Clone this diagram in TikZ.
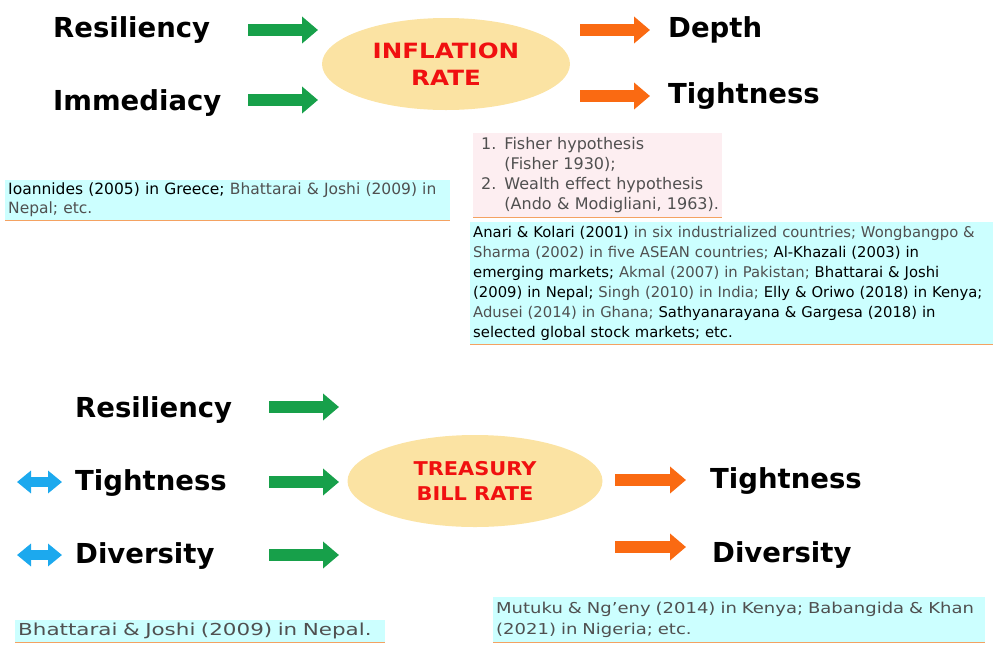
\documentclass[tikz,border=0pt]{standalone}
\usepackage{fontspec}
\setmainfont{DejaVu Sans}
\newfontfamily\infont[FakeStretch=1.17]{DejaVu Sans}
\newfontfamily\tbfont[FakeStretch=1.1]{DejaVu Sans}
\newfontfamily\midfont[FakeStretch=1.2]{DejaVu Sans}
\newfontfamily\widefont[FakeStretch=1.3]{DejaVu Sans}
\usepackage{xcolor}
\usetikzlibrary{arrows.meta,shapes,positioning}

\definecolor{arrgreen}{HTML}{17A04A}
\definecolor{arrorange}{HTML}{FA6A12}
\definecolor{arrblue}{HTML}{1CA9EE}
\definecolor{ellyellow}{HTML}{FBE3A3}
\definecolor{ratered}{HTML}{F01010}
\definecolor{refcyan}{HTML}{CCFFFF}
\definecolor{refpink}{HTML}{FDEEF1}
\definecolor{lineorange}{HTML}{F4A262}
\definecolor{txtgray}{HTML}{505050}
\newcommand{\dk}[1]{\textcolor{black}{#1}}

\begin{document}
\begin{tikzpicture}[x=1pt,y=-1pt,
  big/.style={font=\fontsize{27.5}{30}\selectfont\bfseries,anchor=base west,inner sep=0pt},
  rate/.style={ellipse,fill=ellyellow,minimum width=248pt,minimum height=92pt,
    align=center,text=ratered},
  garr/.style={line width=12pt,arrgreen,-{Triangle[length=16pt,width=26pt]}},
  oarr/.style={line width=12pt,arrorange,-{Triangle[length=16pt,width=26pt]}},
  barr/.style={line width=10pt,arrblue,{Triangle[length=14pt,width=22pt]}-{Triangle[length=14pt,width=22pt]}},
  refbox/.style={anchor=north west,align=left,inner xsep=3pt,inner ysep=2pt,text=txtgray},
  uline/.style={lineorange,line width=1.5pt}]
\useasboundingbox (0,0) rectangle (993,654);

% inflation rate
\node[rate,font=\fontsize{21}{27}\selectfont\infont\bfseries] (inf) at (446,64) {INFLATION\\RATE};
\node[big] (res1) at (53,37) {Resiliency};
\node[big] (imm1) at (53,110) {Immediacy};
\node[big] (dep1) at (668,37) {Depth};
\node[big] (tig1) at (668,103) {Tightness};
\coordinate (g1s) at (248,30); \coordinate (g1e) at (318,30);
\coordinate (g2s) at (248,100); \coordinate (g2e) at (318,100);
\coordinate (o1s) at (580,30); \coordinate (o1e) at (650,30);
\coordinate (o2s) at (580,96); \coordinate (o2e) at (650,96);
\draw[garr] (g1s) -- (g1e);
\draw[garr] (g2s) -- (g2e);
\draw[oarr] (o1s) -- (o1e);
\draw[oarr] (o2s) -- (o2e);

% hypotheses
\node[refbox,fill=refpink,text width=243pt,minimum height=82pt,
  font=\fontsize{16}{20}\selectfont] (hyp) at (473,133)
  {\begin{tabular}{@{\hspace{5pt}}r@{ }l}
   1. & Fisher hypothesis\\
      & (Fisher 1930);\\
   2. & Wealth effect hypothesis\\
      & (Ando \& Modigliani, 1963).
   \end{tabular}};
\draw[uline] (hyp.south west) -- (hyp.south east);

% evidence, top
\node[refbox,fill=refcyan,text width=439pt,minimum height=40pt,
  font=\fontsize{15.5}{19}\selectfont] (ev1) at (5,180)
  {\dk{Ioannides (2005) in Greece;} Bhattarai \& Joshi (2009) in\\Nepal; etc.};
\draw[uline] (ev1.south west) -- (ev1.south east);
\node[refbox,fill=refcyan,text width=517pt,minimum height=122pt,
  font=\fontsize{14.8}{20}\selectfont] (ev2) at (470,222)
  {\dk{Anari \& Kolari (2001)} in six industrialized countries; Wongbangpo \&\\
   Sharma (2002) in five ASEAN countries; \dk{Al-Khazali (2003) in}\\
   \dk{emerging markets;} Akmal (2007) in Pakistan; \dk{Bhattarai \& Joshi}\\
   \dk{(2009) in Nepal;} Singh (2010) in India; \dk{Elly \& Oriwo (2018) in Kenya;}\\
   Adusei (2014) in Ghana; \dk{Sathyanarayana \& Gargesa (2018) in}\\
   \dk{selected global stock markets; etc.}};
\draw[uline] (ev2.south west) -- (ev2.south east);

% treasury bill rate
\node[rate,minimum width=255pt,font=\fontsize{19}{25}\selectfont\tbfont\bfseries] (tbr) at (475,481) {TREASURY\\BILL RATE};
\node[big] (res2) at (75,417) {Resiliency};
\node[big] (tig2) at (75,490) {Tightness};
\node[big] (div2) at (75,563) {Diversity};
\node[big] (tig3) at (710,488) {Tightness};
\node[big] (div3) at (712,562) {Diversity};
\coordinate (b1s) at (17,482); \coordinate (b1e) at (62,482);
\coordinate (b2s) at (17,555); \coordinate (b2e) at (62,555);
\draw[barr] (b1s) -- (b1e);
\draw[barr] (b2s) -- (b2e);
\coordinate (g3s) at (269,407); \coordinate (g3e) at (339,407);
\coordinate (g4s) at (269,482); \coordinate (g4e) at (339,482);
\coordinate (g5s) at (269,555); \coordinate (g5e) at (339,555);
\draw[garr] (g3s) -- (g3e);
\draw[garr] (g4s) -- (g4e);
\draw[garr] (g5s) -- (g5e);
\coordinate (o3s) at (615,480); \coordinate (o3e) at (686,480);
\coordinate (o4s) at (615,547); \coordinate (o4e) at (686,547);
\draw[oarr] (o3s) -- (o3e);
\draw[oarr] (o4s) -- (o4e);

% evidence, bottom
\node[refbox,fill=refcyan,text width=486pt,minimum height=45pt,
  font=\fontsize{15}{21}\selectfont\midfont] (ev3) at (493,597)
  {Mutuku \& Ng’eny (2014) in Kenya; Babangida \& Khan\\(2021) in Nigeria; etc.};
\draw[uline] (ev3.south west) -- (ev3.south east);
\node[refbox,fill=refcyan,text width=364pt,minimum height=22pt,
  font=\fontsize{16.5}{19}\selectfont\widefont] (ev4) at (15,620)
  {Bhattarai \& Joshi (2009) in Nepal.};
\draw[uline] (ev4.south west) -- (ev4.south east);
\end{tikzpicture}
\end{document}
